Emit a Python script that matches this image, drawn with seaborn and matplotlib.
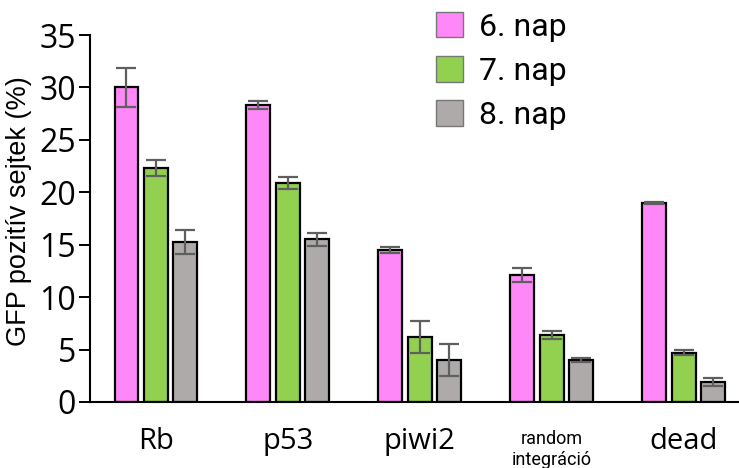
import numpy as np
import pandas as pd
import matplotlib
matplotlib.use("Agg")
import matplotlib.pyplot as plt
import matplotlib.transforms as mtransforms
import seaborn as sns
from matplotlib.patches import Patch

categories = ["Rb", "p53", "piwi2", "random\nintegráció", "dead"]
days = ["6. nap", "7. nap", "8. nap"]
day6 = [30.0, 28.3, 14.5, 12.1, 19.0]
day7 = [22.3, 20.9, 6.2, 6.4, 4.7]
day8 = [15.3, 15.5, 4.0, 4.0, 1.9]
err6 = [1.9, 0.4, 0.3, 0.7, 0.1]
err7 = [0.75, 0.6, 1.55, 0.35, 0.25]
err8 = [1.15, 0.6, 1.5, 0.15, 0.35]
colors = ["#FF88F8", "#92D050", "#AEAAAA"]

df = pd.DataFrame({
    "kategoria": categories * 3,
    "nap": [d for d in days for _ in categories],
    "ertek": day6 + day7 + day8,
    "hiba": err6 + err7 + err8,
})

sns.set_style("white")
plt.rcParams["text.color"] = "black"
plt.rcParams["axes.labelcolor"] = "black"
plt.rcParams["xtick.color"] = "black"
plt.rcParams["ytick.color"] = "black"

fig = plt.figure(figsize=(7.39, 4.68), dpi=100)
ax = fig.add_axes([90 / 739, 66 / 468, 1 - 90 / 739, (402 - 35) / 468])

sns.barplot(data=df, x="kategoria", y="ertek", hue="nap", order=categories,
            hue_order=days, palette=colors, errorbar=None, width=0.67,
            gap=0.19, edgecolor="black", linewidth=1.6, saturation=1,
            legend=False, ax=ax)

# error bars placed on the drawn bars
for i, d in enumerate(days):
    sub = df[df["nap"] == d].set_index("kategoria").loc[categories]
    xs = [p.get_x() + p.get_width() / 2 for p in ax.patches[i * 5:(i + 1) * 5]]
    ax.errorbar(xs, sub["ertek"], yerr=sub["hiba"], fmt="none",
                ecolor="#5f5f5f", elinewidth=1.6, capsize=7, capthick=1.6,
                zorder=5)

ax.set_xlim(-0.5, 4.42)
ax.set_ylim(0, 35)
ax.set_yticks(range(0, 36, 5))
ax.tick_params(axis="y", labelsize=23, length=8, width=1.4, direction="out",
               left=True, pad=2, colors="black")
ax.tick_params(axis="x", length=0, pad=18, colors="black")
for lab in ax.get_yticklabels():
    lab.set_family("Open Sans")
ax.set_xticks(range(len(categories)))
ax.set_xticklabels(categories)
for lab in ax.get_xticklabels():
    if "\n" in lab.get_text():
        lab.set_fontsize(13)
        lab.set_family("Roboto")
        lab.set_linespacing(1.2)
        shift = mtransforms.ScaledTranslation(0, -2.5 / 72, fig.dpi_scale_trans)
        lab.set_transform(lab.get_transform() + shift)
    else:
        lab.set_fontsize(21)
        lab.set_family("Open Sans")
ax.set_xlabel("")
ax.set_ylabel("GFP pozitív sejtek (%)", fontsize=19.5,
              family="Liberation Sans", color="black")
ax.yaxis.set_label_coords(-58 / 649, 0.52)
sns.despine(ax=ax)
for s in ["left", "bottom"]:
    ax.spines[s].set_linewidth(1.5)
    ax.spines[s].set_color("black")

handles = [Patch(facecolor=c, edgecolor="#777777", linewidth=1) for c in colors]
fig.legend(handles, days, loc="upper left",
           bbox_to_anchor=(436 / 739, 1 - 12 / 468),
           frameon=False, borderpad=0, borderaxespad=0,
           handlelength=0.85, handleheight=0.85,
           handletextpad=0.5, labelspacing=0.45,
           prop={"family": "Roboto", "size": 23})

fig.savefig("out.png", dpi=100)
